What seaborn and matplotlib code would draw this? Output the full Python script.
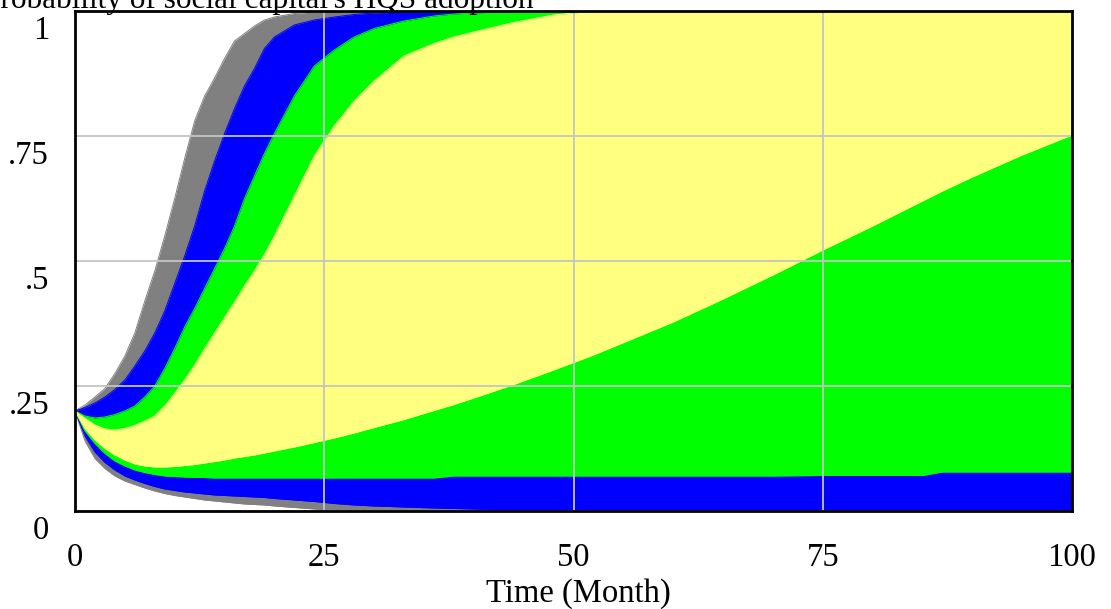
import matplotlib
matplotlib.use("Agg")
import matplotlib.pyplot as plt
import matplotlib.transforms as mtransforms
import numpy as np
import pandas as pd
import seaborn as sns

# Simulation time (months)
time = [0, 1, 2, 3, 4, 5, 6, 7, 8, 9, 10, 11, 12, 13, 14, 15, 16, 17, 18, 19, 20,
        22, 24, 26, 28, 30, 33, 36, 38, 40, 44, 48, 52, 56, 60, 65, 70, 75, 80, 85,
        87, 90, 95, 100]

# Sensitivity envelopes of the adoption probability: 100% (gray), 95% (blue),
# 75% (green) and 50% (yellow) bounds
gray_hi = [0.200, 0.212, 0.228, 0.245, 0.275, 0.310, 0.356, 0.420, 0.480, 0.550, 0.625,
           0.705, 0.780, 0.830, 0.866, 0.905, 0.940, 0.955, 0.970, 0.982, 0.988,
           0.995, 0.998, 1.0, 1.0, 1.0, 1.0, 1.0, 1.0, 1.0, 1.0, 1.0, 1.0, 1.0, 1.0,
           1.0, 1.0, 1.0, 1.0, 1.0, 1.0, 1.0, 1.0, 1.0]
blue_hi = [0.200, 0.207, 0.216, 0.228, 0.243, 0.262, 0.290, 0.320, 0.356, 0.400, 0.455,
           0.510, 0.570, 0.640, 0.700, 0.755, 0.805, 0.850, 0.885, 0.925, 0.948,
           0.972, 0.982, 0.988, 0.993, 0.996, 0.998, 1.0, 1.0, 1.0, 1.0, 1.0, 1.0,
           1.0, 1.0, 1.0, 1.0, 1.0, 1.0, 1.0, 1.0, 1.0, 1.0, 1.0]
green_hi = [0.200, 0.190, 0.186, 0.188, 0.193, 0.200, 0.210, 0.228, 0.250, 0.285, 0.325,
            0.368, 0.405, 0.445, 0.485, 0.525, 0.570, 0.625, 0.670, 0.715, 0.755,
            0.830, 0.890, 0.922, 0.948, 0.965, 0.980, 0.990, 0.994, 0.996, 0.999,
            1.0, 1.0, 1.0, 1.0, 1.0, 1.0, 1.0, 1.0, 1.0, 1.0, 1.0, 1.0, 1.0]
yellow_hi = [0.200, 0.185, 0.172, 0.164, 0.162, 0.165, 0.171, 0.180, 0.190, 0.210, 0.235,
             0.262, 0.292, 0.324, 0.356, 0.387, 0.418, 0.450, 0.480, 0.513, 0.550,
             0.630, 0.710, 0.770, 0.820, 0.860, 0.910, 0.935, 0.948, 0.958, 0.977,
             0.992, 1.0, 1.0, 1.0, 1.0, 1.0, 1.0, 1.0, 1.0, 1.0, 1.0, 1.0, 1.0]
yellow_lo = [0.200, 0.165, 0.142, 0.125, 0.112, 0.102, 0.094, 0.090, 0.088, 0.088, 0.089,
             0.091, 0.093, 0.096, 0.099, 0.102, 0.106, 0.109, 0.112, 0.116, 0.120,
             0.128, 0.137, 0.146, 0.156, 0.167, 0.183, 0.201, 0.213, 0.226, 0.253,
             0.282, 0.312, 0.345, 0.378, 0.424, 0.472, 0.522, 0.570, 0.620, 0.640,
             0.668, 0.712, 0.752]
green_lo = [0.200, 0.160, 0.135, 0.115, 0.100, 0.090, 0.082, 0.077, 0.073, 0.070, 0.069,
            0.068, 0.067, 0.067, 0.066, 0.066, 0.066, 0.066, 0.066, 0.066, 0.066,
            0.066, 0.066, 0.066, 0.066, 0.066, 0.066, 0.066, 0.070, 0.070, 0.070,
            0.070, 0.070, 0.070, 0.070, 0.070, 0.070, 0.071, 0.071, 0.071, 0.078,
            0.078, 0.078, 0.078]
blue_lo = [0.200, 0.150, 0.118, 0.097, 0.082, 0.070, 0.062, 0.055, 0.049, 0.044, 0.041,
           0.038, 0.036, 0.034, 0.032, 0.031, 0.030, 0.029, 0.028, 0.027, 0.025,
           0.022, 0.019, 0.015, 0.012, 0.010, 0.008, 0.006, 0.005, 0.004, 0.001,
           0.0, 0.0, 0.0, 0.0, 0.0, 0.0, 0.0, 0.0, 0.0, 0.0, 0.0, 0.0, 0.0]
gray_lo = [0.200, 0.140, 0.105, 0.085, 0.070, 0.060, 0.053, 0.046, 0.040, 0.035, 0.031,
           0.028, 0.025, 0.022, 0.020, 0.018, 0.016, 0.014, 0.013, 0.012, 0.010,
           0.007, 0.004, 0.001, 0.0, 0.0, 0.0, 0.0, 0.0, 0.0, 0.0, 0.0, 0.0, 0.0,
           0.0, 0.0, 0.0, 0.0, 0.0, 0.0, 0.0, 0.0, 0.0, 0.0]

x_ticks = [0, 25, 50, 75, 100]
x_tick_labels = ["0", "25", "50", "75", "100"]
y_ticks = [0, 0.25, 0.5, 0.75, 1]
y_tick_labels = ["0", ".25", ".5", ".75", "1"]

title = "Probability of social capital's HQS adoption"
x_label = "Time (Month)"

bands = [
    ("100%", gray_lo, gray_hi, "#808080"),
    ("95%", blue_lo, blue_hi, "#0000FF"),
    ("75%", green_lo, green_hi, "#00FF00"),
    ("50%", yellow_lo, yellow_hi, "#FFFF80"),
]

sns.set_theme(style="white")
plt.rcParams["font.family"] = ["Liberation Serif", "DejaVu Serif"]

FS = 23.5
W, H = 1111, 609
fig = plt.figure(figsize=(W / 100, H / 100), dpi=100)
ax_left, ax_right, ax_top, ax_bottom = 75, 1072, 11, 511
ax = fig.add_axes([ax_left / W, 1 - ax_bottom / H,
                   (ax_right - ax_left) / W, (ax_bottom - ax_top) / H])

for k, (name, lo, hi, color) in enumerate(bands):
    z = 1 + 0.2 * k
    ax.fill_between(time, lo, hi, color=color, linewidth=0, zorder=z)
    edges = pd.DataFrame({
        "time": list(time) * 2,
        "value": list(lo) + list(hi),
        "edge": ["lo"] * len(time) + ["hi"] * len(time),
    })
    sns.lineplot(data=edges, x="time", y="value", units="edge", estimator=None,
                 color=color, linewidth=0.7, ax=ax, zorder=z, legend=False)

ax.set_xlim(0, 100)
ax.set_ylim(0, 1)
ax.set_xticks(x_ticks)
ax.set_xticklabels(x_tick_labels)
ax.set_yticks(y_ticks)
ax.set_yticklabels([])
ax.set_axisbelow(False)
ax.grid(True, color="#C4C4C4", linewidth=1.3)
ax.tick_params(axis="both", length=0)
ax.tick_params(axis="x", labelsize=FS, pad=23, labelcolor="black")
ax.set_xlabel(x_label, fontsize=FS, color="black")
ax.xaxis.label.set_va("center")
ax.xaxis.set_label_coords((578 - ax_left) / (ax_right - ax_left),
                          (ax_bottom - 594) / (ax_bottom - ax_top))
ax.set_ylabel("")

for side in ["left", "right", "top", "bottom"]:
    ax.spines[side].set_visible(True)
    ax.spines[side].set_color("black")
    ax.spines[side].set_linewidth(2)
    ax.spines[side].set_zorder(5)

# value labels sit just under their gridlines, right-aligned left of the frame
ytrans = mtransforms.offset_copy(
    mtransforms.blended_transform_factory(fig.transFigure, ax.transData),
    fig=fig, x=0, y=-20, units="dots")
for v, lab in zip(y_ticks, y_tick_labels):
    ax.text(49 / W, v, lab, transform=ytrans, ha="right", va="center",
            fontsize=FS, color="black", clip_on=False)

fig.text(-17 / W, 1 - 8 / H, title, ha="left", va="baseline",
         fontsize=22.5, color="black")

fig.savefig("out.png", dpi=100, facecolor="white")
